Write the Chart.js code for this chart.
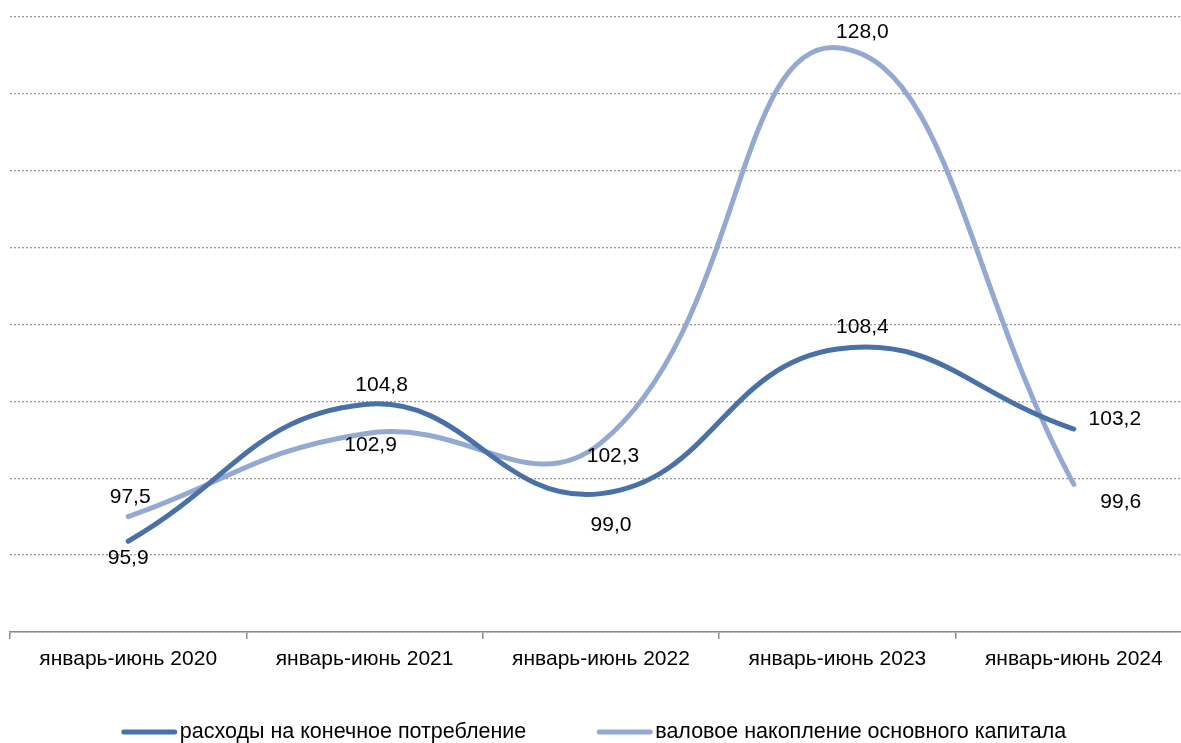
<!DOCTYPE html>
<html>
<head>
<meta charset="utf-8">
<script src="https://cdn.jsdelivr.net/npm/chart.js@4/dist/chart.umd.min.js"></script>
<style>
    html, body { margin: 0; padding: 0; background: #fff; overflow: hidden; }
    #wrap { width: 1192px; height: 743px; position: relative; }
</style>
</head>
<body>
<div id="wrap"><canvas id="chart"></canvas></div>
<script>
// Данные
const periods = ['январь-июнь 2020', 'январь-июнь 2021', 'январь-июнь 2022', 'январь-июнь 2023', 'январь-июнь 2024'];
const consumption = [95.9, 104.8, 99.0, 108.4, 103.2];
const capital = [97.5, 102.9, 102.3, 128.0, 99.6];
const seriesNames = ['расходы на конечное потребление', 'валовое накопление основного капитала'];

const DARK = '#4a71a7';
const LIGHT = '#93a9d1';
const FONT = 'Liberation Sans, Arial, sans-serif';

// label offsets from point (centre of text)
const labelOffsets = [
    [[0, 17], [17, -19], [10, 32], [25, -22], [41, -10]],
    [[2, -19], [6, 12], [12, 13], [25, -16], [47, 18]]
];

const dataLabels = {
    id: 'dataLabels',
    afterDatasetsDraw(chart) {
        const ctx = chart.ctx;
        ctx.save();
        ctx.font = '21px ' + FONT;
        ctx.fillStyle = '#000';
        ctx.textAlign = 'center';
        ctx.textBaseline = 'middle';
        chart.data.datasets.forEach((ds, i) => {
            chart.getDatasetMeta(i).data.forEach((pt, j) => {
                const off = labelOffsets[i][j];
                ctx.fillText(ds.data[j].toFixed(1).replace('.', ','), pt.x + off[0], pt.y + off[1]);
            });
        });
        ctx.restore();
    }
};

// legend drawn by hand: short thick line + text, centred under the chart
const bottomLegend = {
    id: 'bottomLegend',
    afterDraw(chart) {
        const ctx = chart.ctx;
        const y = 732, lineLen = 55, textGap = 3, itemGap = 71;
        ctx.save();
        ctx.font = '21.5px ' + FONT;
        ctx.textBaseline = 'middle';
        const items = chart.data.datasets.map(ds => ({
            label: ds.label, color: ds.borderColor, w: ctx.measureText(ds.label).width
        }));
        const total = items.reduce((s, it) => s + lineLen + textGap + it.w, 0) + itemGap * (items.length - 1);
        let x = 594 - total / 2;
        items.forEach(it => {
            ctx.strokeStyle = it.color;
            ctx.lineWidth = 5;
            ctx.lineCap = 'round';
            ctx.beginPath();
            ctx.moveTo(x + 2, y);
            ctx.lineTo(x + lineLen - 2, y);
            ctx.stroke();
            ctx.fillStyle = '#000';
            ctx.fillText(it.label, x + lineLen + textGap, y);
            x += lineLen + textGap + it.w + itemGap;
        });
        ctx.restore();
    }
};

const ctx = document.getElementById('chart').getContext('2d');
new Chart(ctx, {
    type: 'line',
    data: {
        labels: periods,
        datasets: [
            {
                label: seriesNames[0],
                data: consumption,
                borderColor: DARK,
                backgroundColor: DARK,
                borderWidth: 5,
                borderCapStyle: 'round',
                tension: 0.45,
                pointRadius: 0
            },
            {
                label: seriesNames[1],
                data: capital,
                borderColor: LIGHT,
                backgroundColor: LIGHT,
                borderWidth: 5,
                borderCapStyle: 'round',
                tension: 0.45,
                pointRadius: 0
            }
        ]
    },
    options: {
        responsive: true,
        maintainAspectRatio: false,
        animation: false,
        layout: { padding: { top: 17, left: 10, right: 0, bottom: 0 } },
        plugins: {
            legend: { display: false },
            tooltip: { enabled: false }
        },
        scales: {
            x: {
                offset: true,
                grid: {
                    offset: true,
                    drawOnChartArea: false,
                    drawTicks: true,
                    tickLength: 7,
                    color: '#8c8c8c',
                    lineWidth: 1.5
                },
                border: { color: '#8c8c8c', width: 1.5 },
                ticks: {
                    font: { family: FONT, size: 21 },
                    color: '#000',
                    padding: 8,
                    maxRotation: 0
                },
                afterFit(scale) { scale.height = 111; }
            },
            y: {
                min: 90,
                max: 130,
                ticks: { display: false, stepSize: 5 },
                border: { display: false },
                grid: {
                    drawTicks: false,
                    color: '#9a9a9a',
                    lineWidth: 1.3
                },
                afterFit(scale) { scale.width = 0; }
            }
        }
    },
    plugins: [dataLabels, bottomLegend, {
        id: 'dotGrid',
        beforeInit(chart) {
            chart.options.scales.y.border.dash = [2, 2];
            chart.options.scales.y.grid.borderDash = [2, 2];
        }
    }]
});
</script>
</body>
</html>
